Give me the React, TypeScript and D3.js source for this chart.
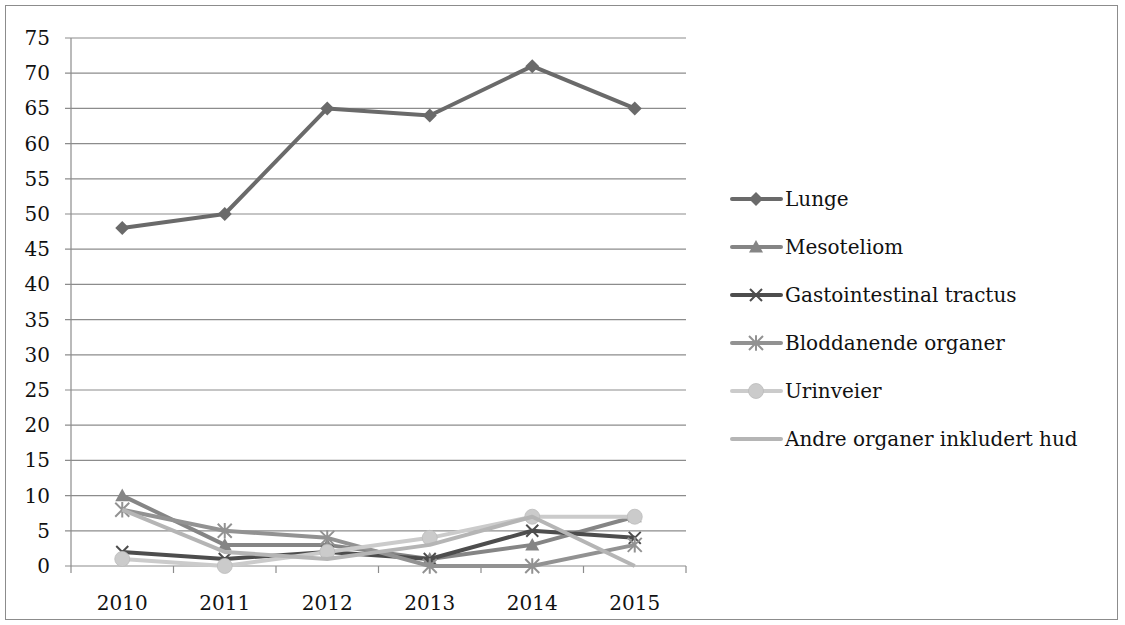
import React from "react";
import * as d3 from "d3";

const years = ["2010", "2011", "2012", "2013", "2014", "2015"];
const yTicks = [0, 5, 10, 15, 20, 25, 30, 35, 40, 45, 50, 55, 60, 65, 70, 75];

const lunge = [48, 50, 65, 64, 71, 65];
const mesoteliom = [10, 3, 3, 1, 3, 7];
const gastro = [2, 1, 2, 1, 5, 4];
const blod = [8, 5, 4, 0, 0, 3];
const urin = [1, 0, 2, 4, 7, 7];
const andre = [8, 2, 1, 3, 7, 0];

const series = [
  { name: "Lunge", values: lunge, color: "#6a6a6a", marker: "diamond" },
  { name: "Mesoteliom", values: mesoteliom, color: "#858585", marker: "triangle" },
  { name: "Gastointestinal tractus", values: gastro, color: "#4d4d4d", marker: "x" },
  { name: "Bloddanende organer", values: blod, color: "#929292", marker: "star" },
  { name: "Urinveier", values: urin, color: "#cbcbcb", marker: "circle" },
  { name: "Andre organer inkludert hud", values: andre, color: "#b5b5b5", marker: "none" },
];

const W = 1125;
const H = 625;
const left = 71;
const right = 686;
const top = 38;
const bottom = 566;
const font = "'DejaVu Serif', 'Liberation Serif', serif";
const fs = 20;

function Marker({ type, x, y, color }: { type: string; x: number; y: number; color: string }) {
  if (type === "diamond") {
    const s = 7;
    return <path d={`M${x},${y - s}L${x + s},${y}L${x},${y + s}L${x - s},${y}Z`} fill={color} />;
  }
  if (type === "triangle") {
    const s = 7;
    return <path d={`M${x},${y - s}L${x + s},${y + s * 0.8}L${x - s},${y + s * 0.8}Z`} fill={color} />;
  }
  if (type === "x") {
    const s = 6;
    return (
      <path d={`M${x - s},${y - s}L${x + s},${y + s}M${x - s},${y + s}L${x + s},${y - s}`} stroke={color} strokeWidth={2} />
    );
  }
  if (type === "star") {
    const s = 7;
    return (
      <path
        d={`M${x - s},${y - s}L${x + s},${y + s}M${x - s},${y + s}L${x + s},${y - s}M${x},${y - s * 1.1}L${x},${y + s * 1.1}`}
        stroke={color}
        strokeWidth={2}
      />
    );
  }
  if (type === "circle") {
    return <circle cx={x} cy={y} r={7.5} fill={color} stroke="#bbbbbb" strokeWidth={0.8} />;
  }
  return null;
}

export default function App() {
  const x = d3.scaleBand().domain(years).range([left, right]);
  const y = d3.scaleLinear().domain([0, 75]).range([bottom, top]);
  const line = d3
    .line<number>()
    .x((_, i) => (x(years[i]) as number) + x.bandwidth() / 2)
    .y((d) => y(d));

  const legendY = d3.scalePoint().domain(series.map((s) => s.name)).range([199, 439]);

  return (
    <svg width={W} height={H} style={{ position: "absolute", left: 0, top: 0 }}>
      <rect x={0} y={0} width={W} height={H} fill="white" />
      <rect x={5.5} y={5.5} width={1112} height={614} fill="none" stroke="#8c8c8c" strokeWidth={1} />

      {/* gridlines + y labels */}
      {yTicks.map((t) => (
        <g key={t}>
          <line x1={left - 6} x2={right} y1={y(t)} y2={y(t)} stroke="#8c8c8c" strokeWidth={1.2} />
          <text x={50} y={y(t)} textAnchor="end" dominantBaseline="central" fontSize={fs} fontFamily={font} fill="#111">
            {t}
          </text>
        </g>
      ))}
      <line x1={left} x2={left} y1={top} y2={bottom} stroke="#8c8c8c" strokeWidth={1.2} />

      {/* x ticks + labels */}
      {[...years.map((yr) => x(yr) as number), right].map((px, i) => (
        <line key={i} x1={px} x2={px} y1={bottom} y2={bottom + 7} stroke="#8c8c8c" strokeWidth={1.2} />
      ))}
      {years.map((yr) => (
        <text
          key={yr}
          x={(x(yr) as number) + x.bandwidth() / 2}
          y={603}
          textAnchor="middle"
          dominantBaseline="central"
          fontSize={fs}
          fontFamily={font}
          fill="#111"
        >
          {yr}
        </text>
      ))}

      {/* series */}
      {series.map((s) => (
        <g key={s.name}>
          <path d={line(s.values) || ""} fill="none" stroke={s.color} strokeWidth={4} strokeLinejoin="round" />
          {s.values.map((v, i) => (
            <Marker
              key={i}
              type={s.marker}
              x={(x(years[i]) as number) + x.bandwidth() / 2}
              y={y(v)}
              color={s.color}
            />
          ))}
        </g>
      ))}

      {/* legend */}
      {series.map((s) => {
        const ly = legendY(s.name) as number;
        return (
          <g key={s.name}>
            <line x1={732} x2={781} y1={ly} y2={ly} stroke={s.color} strokeWidth={4} strokeLinecap="round" />
            <Marker type={s.marker} x={756} y={ly} color={s.color} />
            <text x={785} y={ly} dominantBaseline="central" fontSize={fs} fontFamily={font} fill="#111">
              {s.name}
            </text>
          </g>
        );
      })}
    </svg>
  );
}
